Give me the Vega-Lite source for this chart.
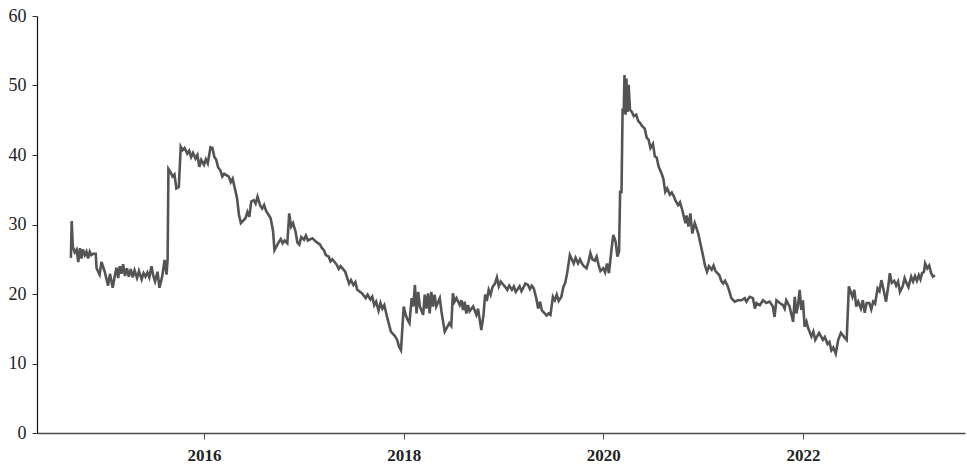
{
  "$schema": "https://vega.github.io/schema/vega-lite/v6.json",
  "width": 928,
  "height": 417,
  "autosize": {"type": "none"},
  "padding": {"left": 37, "top": 16, "right": 2, "bottom": 37},
  "background": "white",
  "config": {"view": {"stroke": null}},
  "data": {"values": [
    {"date":"2014-09-01","value":25.2},{"date":"2014-09-04","value":30.5},{"date":"2014-09-08","value":26.8},{"date":"2014-09-15","value":26.0},
    {"date":"2014-09-22","value":26.4},{"date":"2014-09-28","value":24.6},
    {"date":"2014-10-04","value":26.6},{"date":"2014-10-10","value":25.1},{"date":"2014-10-15","value":26.4},{"date":"2014-10-22","value":25.6},{"date":"2014-10-28","value":26.1},
    {"date":"2014-11-03","value":25.1},{"date":"2014-11-09","value":26.1},{"date":"2014-11-15","value":25.6},{"date":"2014-11-22","value":25.8},
    {"date":"2014-12-01","value":25.8},{"date":"2014-12-04","value":23.7},{"date":"2014-12-15","value":22.8},{"date":"2014-12-22","value":24.6},{"date":"2015-01-03","value":23.2},{"date":"2015-01-15","value":21.2},
    {"date":"2015-01-22","value":22.9},{"date":"2015-02-01","value":20.9},{"date":"2015-02-09","value":22.7},{"date":"2015-02-15","value":23.8},{"date":"2015-02-21","value":22.3},{"date":"2015-02-27","value":24.0},
    {"date":"2015-03-05","value":22.9},{"date":"2015-03-11","value":24.3},{"date":"2015-03-18","value":22.6},{"date":"2015-03-25","value":23.7},
    {"date":"2015-04-01","value":22.5},{"date":"2015-04-08","value":23.6},{"date":"2015-04-15","value":22.4},{"date":"2015-04-22","value":23.4},{"date":"2015-05-01","value":22.3},{"date":"2015-05-08","value":23.3},{"date":"2015-05-18","value":22.1},
    {"date":"2015-05-25","value":23.0},{"date":"2015-06-01","value":22.5},{"date":"2015-06-08","value":23.1},{"date":"2015-06-15","value":22.4},{"date":"2015-06-23","value":24.0},{"date":"2015-06-29","value":22.7},{"date":"2015-07-06","value":21.8},{"date":"2015-07-15","value":23.2},
    {"date":"2015-07-22","value":20.9},{"date":"2015-08-01","value":22.5},{"date":"2015-08-10","value":24.9},{"date":"2015-08-17","value":22.8},
    {"date":"2015-08-21","value":25.0},{"date":"2015-08-24","value":38.0},{"date":"2015-09-01","value":37.5},{"date":"2015-09-08","value":36.9},{"date":"2015-09-15","value":37.2},
    {"date":"2015-09-22","value":35.2},{"date":"2015-10-01","value":35.4},{"date":"2015-10-08","value":41.2},{"date":"2015-10-15","value":40.7},{"date":"2015-10-22","value":41.0},
    {"date":"2015-11-01","value":40.2},{"date":"2015-11-08","value":40.6},{"date":"2015-11-15","value":39.7},{"date":"2015-11-22","value":40.3},{"date":"2015-12-01","value":39.5},{"date":"2015-12-08","value":40.0},{"date":"2015-12-15","value":38.3},
    {"date":"2015-12-22","value":39.3},{"date":"2016-01-01","value":38.6},{"date":"2016-01-08","value":39.4},{"date":"2016-01-15","value":38.8},{"date":"2016-01-25","value":41.1},{"date":"2016-02-01","value":41.0},
    {"date":"2016-02-08","value":39.7},{"date":"2016-02-15","value":39.3},{"date":"2016-02-22","value":38.2},{"date":"2016-03-01","value":37.8},{"date":"2016-03-08","value":36.9},{"date":"2016-03-15","value":37.3},{"date":"2016-04-01","value":36.9},
    {"date":"2016-04-08","value":36.1},{"date":"2016-04-15","value":36.6},{"date":"2016-05-01","value":33.8},{"date":"2016-05-08","value":31.4},{"date":"2016-05-15","value":30.2},
    {"date":"2016-06-01","value":30.9},{"date":"2016-06-08","value":31.8},{"date":"2016-06-15","value":31.1},{"date":"2016-06-22","value":33.3},{"date":"2016-07-01","value":33.5},
    {"date":"2016-07-08","value":33.0},{"date":"2016-07-15","value":34.0},{"date":"2016-07-25","value":32.7},{"date":"2016-08-01","value":32.3},{"date":"2016-08-08","value":32.8},{"date":"2016-08-15","value":32.0},{"date":"2016-09-01","value":30.9},
    {"date":"2016-09-10","value":29.0},{"date":"2016-09-15","value":26.3},{"date":"2016-10-01","value":27.5},{"date":"2016-10-08","value":27.9},{"date":"2016-10-15","value":27.3},{"date":"2016-10-22","value":27.7},
    {"date":"2016-11-01","value":27.3},{"date":"2016-11-08","value":31.6},{"date":"2016-11-15","value":29.7},{"date":"2016-11-22","value":30.2},{"date":"2016-12-01","value":29.0},
    {"date":"2016-12-08","value":27.4},{"date":"2016-12-15","value":27.1},{"date":"2016-12-22","value":28.2},{"date":"2017-01-01","value":27.8},{"date":"2017-01-08","value":28.4},{"date":"2017-01-15","value":27.7},{"date":"2017-02-01","value":28.0},
    {"date":"2017-02-15","value":27.5},{"date":"2017-03-01","value":27.1},{"date":"2017-03-08","value":26.6},{"date":"2017-03-15","value":26.3},{"date":"2017-03-22","value":25.6},{"date":"2017-04-01","value":25.4},
    {"date":"2017-04-08","value":24.7},{"date":"2017-04-15","value":25.0},{"date":"2017-05-01","value":24.2},{"date":"2017-05-08","value":23.6},{"date":"2017-05-15","value":24.0},{"date":"2017-06-01","value":23.2},
    {"date":"2017-06-15","value":21.5},{"date":"2017-06-22","value":22.0},{"date":"2017-07-01","value":21.3},{"date":"2017-07-08","value":21.7},{"date":"2017-07-15","value":20.6},{"date":"2017-08-01","value":20.1},
    {"date":"2017-08-15","value":19.4},{"date":"2017-08-22","value":19.9},{"date":"2017-09-01","value":19.2},{"date":"2017-09-08","value":19.6},{"date":"2017-09-15","value":18.4},{"date":"2017-09-22","value":18.9},{"date":"2017-10-01","value":17.6},
    {"date":"2017-10-08","value":18.7},{"date":"2017-10-15","value":17.9},{"date":"2017-10-22","value":18.4},{"date":"2017-11-01","value":16.7},{"date":"2017-11-15","value":14.6},{"date":"2017-12-01","value":13.9},
    {"date":"2017-12-08","value":13.4},{"date":"2017-12-15","value":12.4},{"date":"2017-12-22","value":11.9},{"date":"2018-01-01","value":18.2},{"date":"2018-01-08","value":17.0},{"date":"2018-01-15","value":16.3},
    {"date":"2018-01-22","value":15.8},{"date":"2018-01-30","value":19.4},{"date":"2018-02-05","value":18.2},{"date":"2018-02-11","value":21.3},{"date":"2018-02-17","value":17.2},{"date":"2018-02-23","value":20.3},
    {"date":"2018-03-01","value":18.2},{"date":"2018-03-13","value":17.0},{"date":"2018-03-19","value":19.9},{"date":"2018-03-25","value":17.9},{"date":"2018-03-31","value":20.1},{"date":"2018-04-06","value":17.2},
    {"date":"2018-04-12","value":20.3},{"date":"2018-04-18","value":18.2},{"date":"2018-04-24","value":19.9},{"date":"2018-04-30","value":18.2},{"date":"2018-05-13","value":19.4},{"date":"2018-05-19","value":17.5},
    {"date":"2018-05-31","value":14.6},{"date":"2018-06-10","value":15.3},{"date":"2018-06-17","value":15.8},{"date":"2018-06-24","value":15.4},{"date":"2018-06-30","value":20.1},{"date":"2018-07-06","value":18.9},{"date":"2018-07-13","value":19.4},
    {"date":"2018-07-25","value":18.4},{"date":"2018-07-31","value":19.1},{"date":"2018-08-06","value":17.7},{"date":"2018-08-12","value":18.9},{"date":"2018-08-18","value":17.2},{"date":"2018-08-24","value":18.4},
    {"date":"2018-08-30","value":17.5},{"date":"2018-09-12","value":18.2},{"date":"2018-09-24","value":17.0},{"date":"2018-09-30","value":17.9},{"date":"2018-10-12","value":14.8},
    {"date":"2018-10-20","value":17.0},{"date":"2018-10-26","value":19.9},{"date":"2018-11-01","value":19.0},{"date":"2018-11-08","value":20.6},{"date":"2018-11-15","value":19.9},{"date":"2018-11-22","value":21.0},{"date":"2018-12-01","value":21.5},
    {"date":"2018-12-08","value":22.4},{"date":"2018-12-15","value":21.1},{"date":"2018-12-22","value":21.8},{"date":"2019-01-01","value":21.3},{"date":"2019-01-08","value":21.0},{"date":"2019-01-15","value":20.6},
    {"date":"2019-01-22","value":21.2},{"date":"2019-02-01","value":20.6},{"date":"2019-02-08","value":21.1},{"date":"2019-02-15","value":20.3},{"date":"2019-03-01","value":21.1},{"date":"2019-03-08","value":20.4},{"date":"2019-03-15","value":20.9},
    {"date":"2019-03-22","value":21.5},{"date":"2019-04-01","value":21.3},{"date":"2019-04-08","value":20.7},{"date":"2019-04-15","value":21.2},{"date":"2019-04-22","value":20.8},{"date":"2019-05-01","value":19.4},{"date":"2019-05-08","value":17.9},
    {"date":"2019-05-15","value":18.9},{"date":"2019-05-22","value":17.6},{"date":"2019-06-01","value":17.2},{"date":"2019-06-08","value":16.9},{"date":"2019-06-15","value":17.2},{"date":"2019-06-22","value":17.0},{"date":"2019-07-01","value":19.6},
    {"date":"2019-07-08","value":19.1},{"date":"2019-07-15","value":19.9},{"date":"2019-07-22","value":19.0},{"date":"2019-08-01","value":19.6},{"date":"2019-08-08","value":21.0},{"date":"2019-08-15","value":21.6},{"date":"2019-08-22","value":23.0},
    {"date":"2019-09-01","value":25.6},{"date":"2019-09-08","value":25.0},{"date":"2019-09-15","value":24.4},{"date":"2019-09-22","value":25.2},{"date":"2019-10-01","value":24.4},{"date":"2019-10-08","value":25.0},{"date":"2019-10-15","value":24.4},
    {"date":"2019-10-22","value":24.0},{"date":"2019-11-01","value":23.7},{"date":"2019-11-08","value":24.6},{"date":"2019-11-15","value":25.9},{"date":"2019-11-22","value":25.0},{"date":"2019-12-01","value":24.8},{"date":"2019-12-08","value":25.4},{"date":"2019-12-15","value":24.2},
    {"date":"2019-12-22","value":23.3},{"date":"2020-01-01","value":23.7},{"date":"2020-01-08","value":23.1},{"date":"2020-01-15","value":24.4},{"date":"2020-01-22","value":23.0},{"date":"2020-02-01","value":26.6},{"date":"2020-02-07","value":28.5},
    {"date":"2020-02-15","value":27.6},{"date":"2020-02-22","value":25.4},{"date":"2020-02-28","value":26.1},{"date":"2020-03-03","value":34.7},
    {"date":"2020-03-08","value":34.7},{"date":"2020-03-12","value":46.7},{"date":"2020-03-16","value":46.0},{"date":"2020-03-19","value":51.5},
    {"date":"2020-03-23","value":45.8},{"date":"2020-03-26","value":51.0},{"date":"2020-03-30","value":46.2},{"date":"2020-04-03","value":50.1},
    {"date":"2020-04-08","value":46.5},{"date":"2020-04-15","value":46.2},{"date":"2020-04-22","value":45.6},{"date":"2020-05-01","value":45.8},{"date":"2020-05-08","value":44.9},{"date":"2020-05-15","value":44.6},
    {"date":"2020-05-22","value":44.2},{"date":"2020-06-01","value":43.8},{"date":"2020-06-08","value":42.5},{"date":"2020-06-15","value":42.2},{"date":"2020-06-22","value":41.0},{"date":"2020-07-01","value":41.6},{"date":"2020-07-08","value":39.8},{"date":"2020-07-15","value":39.6},
    {"date":"2020-07-22","value":38.3},{"date":"2020-08-01","value":37.4},{"date":"2020-08-08","value":36.6},{"date":"2020-08-15","value":34.7},{"date":"2020-08-22","value":35.2},{"date":"2020-09-01","value":34.3},{"date":"2020-09-08","value":34.6},{"date":"2020-09-15","value":34.1},
    {"date":"2020-09-22","value":33.4},{"date":"2020-10-01","value":32.8},{"date":"2020-10-08","value":33.2},{"date":"2020-10-15","value":32.3},{"date":"2020-10-28","value":30.2},{"date":"2020-11-01","value":31.3},
    {"date":"2020-11-08","value":29.7},{"date":"2020-11-15","value":31.6},{"date":"2020-11-22","value":28.7},{"date":"2020-12-01","value":30.2},
    {"date":"2020-12-08","value":29.4},{"date":"2020-12-15","value":28.5},{"date":"2020-12-22","value":27.2},{"date":"2021-01-01","value":25.4},{"date":"2021-01-08","value":24.0},{"date":"2021-01-15","value":23.2},{"date":"2021-01-22","value":24.0},{"date":"2021-02-01","value":23.5},
    {"date":"2021-02-08","value":24.1},{"date":"2021-02-15","value":23.3},{"date":"2021-02-22","value":23.0},{"date":"2021-03-01","value":22.7},{"date":"2021-03-08","value":21.9},{"date":"2021-03-15","value":21.5},{"date":"2021-03-22","value":21.9},{"date":"2021-04-01","value":21.1},
    {"date":"2021-04-08","value":20.2},{"date":"2021-04-14","value":19.4},{"date":"2021-04-26","value":18.9},{"date":"2021-05-08","value":19.1},{"date":"2021-05-21","value":19.1},{"date":"2021-06-02","value":19.4},
    {"date":"2021-06-08","value":18.9},{"date":"2021-06-20","value":19.6},{"date":"2021-07-02","value":19.4},{"date":"2021-07-09","value":17.9},{"date":"2021-07-15","value":18.7},{"date":"2021-07-27","value":18.4},
    {"date":"2021-08-08","value":19.1},{"date":"2021-08-20","value":18.7},{"date":"2021-09-01","value":18.9},{"date":"2021-09-13","value":18.2},{"date":"2021-09-19","value":16.7},{"date":"2021-09-26","value":19.1},
    {"date":"2021-10-08","value":18.7},{"date":"2021-10-20","value":18.4},{"date":"2021-10-26","value":17.9},{"date":"2021-11-01","value":19.1},{"date":"2021-11-13","value":18.2},{"date":"2021-11-26","value":16.0},
    {"date":"2021-12-02","value":19.6},{"date":"2021-12-08","value":17.2},{"date":"2021-12-14","value":18.4},{"date":"2021-12-20","value":20.6},{"date":"2021-12-26","value":17.7},{"date":"2022-01-01","value":19.1},
    {"date":"2022-01-07","value":15.3},{"date":"2022-01-14","value":16.0},{"date":"2022-01-20","value":15.1},
    {"date":"2022-02-01","value":13.9},{"date":"2022-02-08","value":14.6},{"date":"2022-02-15","value":13.4},{"date":"2022-03-01","value":14.4},{"date":"2022-03-08","value":13.9},
    {"date":"2022-03-15","value":13.4},{"date":"2022-03-22","value":13.8},{"date":"2022-04-01","value":12.8},{"date":"2022-04-08","value":13.1},{"date":"2022-04-15","value":11.9},{"date":"2022-04-22","value":12.3},{"date":"2022-05-01","value":11.4},
    {"date":"2022-05-10","value":13.4},{"date":"2022-05-20","value":14.4},{"date":"2022-06-01","value":13.8},{"date":"2022-06-10","value":13.4},
    {"date":"2022-06-18","value":21.1},{"date":"2022-07-01","value":19.6},{"date":"2022-07-08","value":20.6},{"date":"2022-07-15","value":18.2},
    {"date":"2022-07-22","value":18.9},{"date":"2022-08-01","value":17.9},{"date":"2022-08-08","value":19.1},{"date":"2022-08-15","value":17.3},{"date":"2022-08-22","value":18.7},{"date":"2022-09-01","value":18.7},{"date":"2022-09-08","value":17.8},{"date":"2022-09-15","value":18.9},
    {"date":"2022-09-22","value":18.6},{"date":"2022-10-01","value":20.8},{"date":"2022-10-08","value":20.4},{"date":"2022-10-15","value":22.0},{"date":"2022-10-22","value":20.8},{"date":"2022-11-01","value":18.9},
    {"date":"2022-11-08","value":20.8},{"date":"2022-11-15","value":23.0},{"date":"2022-11-22","value":21.6},{"date":"2022-12-01","value":21.9},{"date":"2022-12-08","value":21.2},{"date":"2022-12-15","value":21.8},
    {"date":"2022-12-22","value":20.3},{"date":"2023-01-01","value":21.1},{"date":"2023-01-08","value":22.3},{"date":"2023-01-15","value":21.6},{"date":"2023-01-22","value":21.0},{"date":"2023-02-01","value":22.5},{"date":"2023-02-08","value":21.8},{"date":"2023-02-15","value":22.6},
    {"date":"2023-02-22","value":21.9},{"date":"2023-03-01","value":22.7},{"date":"2023-03-07","value":22.1},{"date":"2023-03-13","value":23.0},{"date":"2023-03-20","value":23.2},{"date":"2023-03-24","value":24.4},
    {"date":"2023-04-01","value":23.7},{"date":"2023-04-08","value":24.1},{"date":"2023-04-15","value":23.0},{"date":"2023-04-22","value":22.5},
    {"date":"2023-04-29","value":22.7}
  ]},
  "mark": {"type": "line", "color": "#545456", "strokeWidth": 2.6, "interpolate": "linear"},
  "encoding": {
    "x": {
      "field": "date", "type": "temporal", "title": null,
      "scale": {"domain": [{"year": 2014, "month": 4, "date": 30}, {"year": 2023, "month": 8, "date": 17}], "nice": false},
      "axis": {
        "values": [{"year": 2016, "month": 1, "date": 1}, {"year": 2018, "month": 1, "date": 1}, {"year": 2020, "month": 1, "date": 1}, {"year": 2022, "month": 1, "date": 1}],
        "format": "%Y", "grid": false,
        "domainColor": "#4a4a4a", "domainWidth": 1.5,
        "tickColor": "#4a4a4a", "tickSize": 6, "tickWidth": 1,
        "labelFont": "Liberation Serif", "labelFontSize": 17, "labelFontWeight": "bold",
        "labelColor": "#222222", "labelPadding": 8
      }
    },
    "y": {
      "field": "value", "type": "quantitative", "title": null,
      "scale": {"domain": [0, 60], "nice": false, "zero": true},
      "axis": {
        "values": [0, 10, 20, 30, 40, 50, 60], "grid": false,
        "domainColor": "#111111", "domainWidth": 1.2,
        "tickColor": "#333333", "tickSize": 5, "tickWidth": 1,
        "labelFont": "Liberation Serif", "labelFontSize": 18,
        "labelColor": "#222222", "labelPadding": 6
      }
    }
  }
}
